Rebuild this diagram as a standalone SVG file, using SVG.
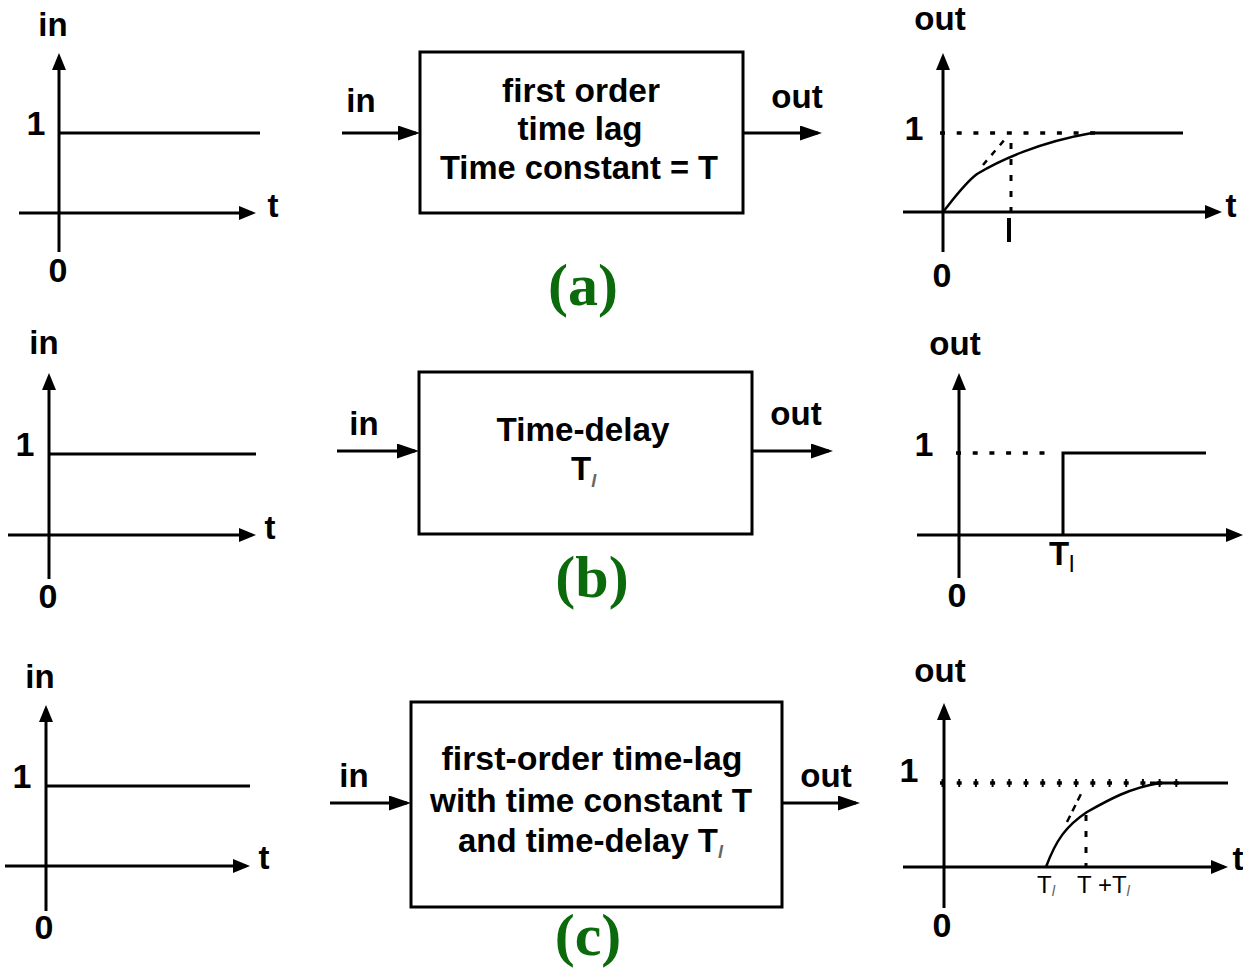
<svg xmlns="http://www.w3.org/2000/svg" width="1243" height="972" viewBox="0 0 1243 972">
<style>
.ax{stroke:#000;stroke-width:3;fill:none}
.ln{stroke:#000;stroke-width:3;fill:none}
.cv{stroke:#000;stroke-width:2.5;fill:none}
.dot{stroke:#000;stroke-width:3.5;fill:none;stroke-dasharray:5 11.7}
.vd{stroke:#000;stroke-width:3;fill:none;stroke-dasharray:6 10}
.box{fill:#fff;stroke:#000;stroke-width:3}
.lb{font-family:"Liberation Sans",Arial,sans-serif;font-weight:bold;font-size:33px;fill:#000;text-anchor:middle}
.num{font-family:"Liberation Sans",Arial,sans-serif;font-weight:bold;font-size:34px;fill:#000;text-anchor:middle}
.bt{font-family:"Liberation Sans",Arial,sans-serif;font-weight:bold;font-size:33px;fill:#000;text-anchor:middle}
.tk{font-family:"Liberation Sans",Arial,sans-serif;font-size:24px;fill:#000}
.sub{fill:#666;font-style:italic}
.cap{font-family:"Liberation Serif","Times New Roman",serif;font-weight:bold;font-size:60px;fill:#0b6a0b;text-anchor:middle}
</style>
<defs>
<marker id="axh" viewBox="0 0 17 14" refX="13" refY="7" markerWidth="17" markerHeight="14" orient="auto" markerUnits="userSpaceOnUse"><path d="M0,0 L17,7 L0,14 z" fill="#000"/></marker>
<marker id="arh" viewBox="0 0 22 15" refX="18" refY="7.5" markerWidth="22" markerHeight="15" orient="auto" markerUnits="userSpaceOnUse"><path d="M0,0 L22,7.5 L0,15 z" fill="#000"/></marker>
</defs>

<!-- Panel (a) -->
<g id="in-graph-a">
<line class="ax" x1="59" y1="252" x2="59" y2="57" marker-end="url(#axh)"/>
<line class="ax" x1="19" y1="213" x2="252" y2="213" marker-end="url(#axh)"/>
<line class="ln" x1="59" y1="133" x2="260" y2="133"/>
<text class="lb" x="53" y="36">in</text>
<text class="num" x="36" y="135">1</text>
<text class="num" x="58" y="282">0</text>
<text class="lb" x="273" y="217">t</text>
</g>
<g id="box-a">
<rect class="box" x="420" y="52" width="323" height="161"/>
<text class="bt" x="581" y="102" textLength="158" lengthAdjust="spacingAndGlyphs">first order</text>
<text class="bt" x="580" y="140" textLength="125" lengthAdjust="spacingAndGlyphs">time lag</text>
<text class="bt" x="579" y="179" textLength="278" lengthAdjust="spacingAndGlyphs">Time constant = T</text>
</g>
<g id="out-graph-a">
<line class="ax" x1="943" y1="252" x2="943" y2="57" marker-end="url(#axh)"/>
<line class="ax" x1="903" y1="212" x2="1218" y2="212" marker-end="url(#axh)"/>
<line class="dot" x1="940" y1="133" x2="1095" y2="133"/>
<line class="ln" x1="1090" y1="133" x2="1183" y2="133"/>
<path class="cv" d="M943,212 C955,197 965,183 977,174 C1000,160 1040,142 1092,133"/>
<line class="vd" x1="1011" y1="143" x2="1011" y2="212"/>
<line class="cv" x1="983" y1="165" x2="1006" y2="138" style="stroke-dasharray:6 7"/>
<line class="ln" x1="1009" y1="218" x2="1009" y2="242" style="stroke-width:4"/>
<text class="lb" x="940" y="30">out</text>
<text class="num" x="914" y="140">1</text>
<text class="num" x="942" y="287">0</text>
<text class="lb" x="1231" y="217">t</text>
</g>
<text class="cap" x="583" y="305">(a)</text>

<!-- Panel (b) -->
<g id="in-graph-b">
<line class="ax" x1="49" y1="579" x2="49" y2="377" marker-end="url(#axh)"/>
<line class="ax" x1="8" y1="535" x2="252" y2="535" marker-end="url(#axh)"/>
<line class="ln" x1="49" y1="454" x2="256" y2="454"/>
<text class="lb" x="44" y="354">in</text>
<text class="num" x="25" y="456">1</text>
<text class="num" x="48" y="608">0</text>
<text class="lb" x="270" y="539">t</text>
</g>
<g id="box-b">
<rect class="box" x="419" y="372" width="333" height="162"/>
<text class="bt" x="583" y="441" textLength="173" lengthAdjust="spacingAndGlyphs">Time-delay</text>
<text class="bt" x="571" y="480" style="text-anchor:start">T<tspan class="sub" font-size="18" dy="7">l</tspan></text>
</g>
<g id="out-graph-b">
<line class="ax" x1="959" y1="578" x2="959" y2="377" marker-end="url(#axh)"/>
<line class="ax" x1="917" y1="535" x2="1239" y2="535" marker-end="url(#axh)"/>
<line class="dot" x1="956" y1="453" x2="1048" y2="453"/>
<path class="ln" d="M1063,535 V453 H1206"/>
<text class="lb" x="955" y="355">out</text>
<text class="num" x="924" y="456">1</text>
<text class="num" x="957" y="607">0</text>
<text class="bt" x="1049" y="565" style="text-anchor:start" font-size="32">T</text>
<text class="tk" x="1069" y="572" font-size="19" fill="#666">l</text>
</g>
<text class="cap" x="592" y="597">(b)</text>

<!-- Panel (c) -->
<g id="in-graph-c">
<line class="ax" x1="46" y1="911" x2="46" y2="709" marker-end="url(#axh)"/>
<line class="ax" x1="5" y1="866" x2="246" y2="866" marker-end="url(#axh)"/>
<line class="ln" x1="46" y1="786" x2="250" y2="786"/>
<text class="lb" x="40" y="688">in</text>
<text class="num" x="22" y="788">1</text>
<text class="num" x="44" y="939">0</text>
<text class="lb" x="264" y="869">t</text>
</g>
<g id="box-c">
<rect class="box" x="411" y="702" width="371" height="205"/>
<text class="bt" x="592" y="770" textLength="301" lengthAdjust="spacingAndGlyphs">first-order time-lag</text>
<text class="bt" x="591" y="812" textLength="322" lengthAdjust="spacingAndGlyphs">with time constant T</text>
<text class="bt" x="458" y="852" style="text-anchor:start"><tspan textLength="260" lengthAdjust="spacingAndGlyphs">and time-delay T</tspan><tspan class="sub" font-size="18" dy="6">l</tspan></text>
</g>
<g id="out-graph-c">
<line class="ax" x1="944" y1="908" x2="944" y2="707" marker-end="url(#axh)"/>
<line class="ax" x1="903" y1="867" x2="1224" y2="867" marker-end="url(#axh)"/>
<line class="dot" x1="940" y1="783" x2="1186" y2="783"/>
<line x1="941.5" y1="783" x2="1186" y2="783" stroke="#000" stroke-width="8" stroke-dasharray="2 14.7"/>
<line class="ln" x1="1150" y1="783" x2="1228" y2="783"/>
<path class="cv" d="M1046,867 C1056,840 1066,826 1087,812 C1110,799 1130,788 1160,783"/>
<line class="vd" x1="1086" y1="815" x2="1086" y2="867"/>
<line class="cv" x1="1067" y1="822" x2="1083" y2="790" style="stroke-dasharray:7 5"/>
<text class="lb" x="940" y="682">out</text>
<text class="num" x="909" y="782">1</text>
<text class="num" x="942" y="937">0</text>
<text class="lb" x="1238" y="870">t</text>
<text class="tk" x="1037" y="893">T<tspan class="sub" font-size="15" dy="3">l</tspan></text>
<text class="tk" x="1077" y="893">T +T<tspan class="sub" font-size="15" dy="3">l</tspan></text>
</g>
<text class="cap" x="588" y="955">(c)</text>

<!-- Connectors -->
<g id="connectors">
<line class="ln" x1="342" y1="133" x2="416" y2="133" marker-end="url(#arh)"/>
<line class="ln" x1="743" y1="133" x2="818" y2="133" marker-end="url(#arh)"/>
<line class="ln" x1="337" y1="451" x2="415" y2="451" marker-end="url(#arh)"/>
<line class="ln" x1="752" y1="451" x2="829" y2="451" marker-end="url(#arh)"/>
<line class="ln" x1="330" y1="803" x2="407" y2="803" marker-end="url(#arh)"/>
<line class="ln" x1="782" y1="803" x2="856" y2="803" marker-end="url(#arh)"/>
<text class="lb" x="361" y="112">in</text>
<text class="lb" x="797" y="108">out</text>
<text class="lb" x="364" y="435">in</text>
<text class="lb" x="796" y="425">out</text>
<text class="lb" x="354" y="787">in</text>
<text class="lb" x="826" y="787">out</text>
</g>
</svg>
